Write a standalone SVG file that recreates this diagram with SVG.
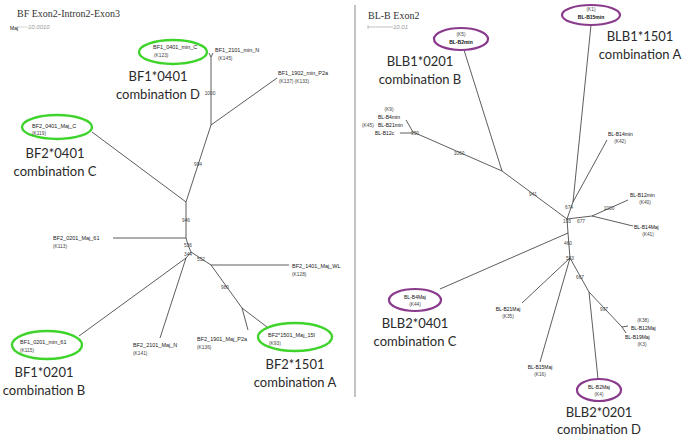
<svg xmlns="http://www.w3.org/2000/svg" width="684" height="436" viewBox="0 0 684 436">
<style>
.t{font-family:"Liberation Serif",serif;font-size:10px;fill:#333}
.s{font-family:"Liberation Sans",Arial,sans-serif;font-size:5.5px;fill:#222}
.k{font-family:"Liberation Sans",Arial,sans-serif;font-size:4.8px;fill:#444}
.b{font-family:"Liberation Sans",Arial,sans-serif;font-size:5px;fill:#111}
.big{font-family:Lato,"Open Sans",sans-serif;font-size:13px;fill:#2a2a2a;text-anchor:middle}
.sc{font-family:"Liberation Sans",Arial,sans-serif;font-size:6px;fill:#999;font-style:italic}
.g{fill:none;stroke:#3fd42c;stroke-width:2.4}
.p{fill:none;stroke:#8a3a8c;stroke-width:2.2}
.e line,.e path{stroke:#333;stroke-width:0.8;fill:none}
</style>
<rect width="684" height="436" fill="#fff"/>
<line x1="355" y1="5" x2="355" y2="397" stroke="#888" stroke-width="1"/>
<text class="t" x="17" y="17">BF Exon2-Intron2-Exon3</text>
<text class="b" x="10" y="30" font-size="4.5">Maj</text>
<line x1="18" y1="27" x2="28" y2="27" stroke="#bbb" stroke-width="0.6"/>
<text class="sc" x="28" y="29">10.0010</text>
<text class="t" x="368" y="19">BL-B Exon2</text>
<line x1="368" y1="27" x2="393" y2="27" stroke="#999" stroke-width="0.6"/>
<line x1="368" y1="25" x2="368" y2="29" stroke="#999" stroke-width="0.6"/>
<text class="sc" x="393" y="29">10.01</text>
<g id="connectors" class="e">
<line x1="209" y1="53" x2="211" y2="57"/>
<line x1="213" y1="53" x2="211" y2="57"/>
<line x1="211" y1="57" x2="211" y2="125"/>
<line x1="211" y1="125" x2="277" y2="78"/>
<line x1="211" y1="125" x2="186" y2="202"/>
<line x1="186" y1="202" x2="92" y2="132"/>
<line x1="186" y1="202" x2="186" y2="238"/>
<line x1="113" y1="238" x2="186" y2="238"/>
<path d="M186,238 L188,245 L191,252"/>
<line x1="191" y1="252" x2="186" y2="258"/>
<line x1="186" y1="258" x2="79" y2="336"/>
<line x1="186" y1="258" x2="160" y2="338"/>
<line x1="191" y1="252" x2="211" y2="265"/>
<line x1="211" y1="265" x2="289" y2="265"/>
<line x1="211" y1="265" x2="242" y2="308"/>
<line x1="242" y1="308" x2="248" y2="330"/>
<line x1="242" y1="308" x2="267" y2="327"/>
<line x1="400" y1="133" x2="413" y2="133"/>
<line x1="406" y1="120" x2="413" y2="132"/>
<line x1="413" y1="132" x2="502" y2="171"/>
<line x1="464" y1="50" x2="502" y2="171"/>
<line x1="502" y1="171" x2="567" y2="219"/>
<line x1="591" y1="25" x2="573" y2="202"/>
<line x1="607" y1="140" x2="573" y2="202"/>
<line x1="573" y1="202" x2="567" y2="219"/>
<line x1="567" y1="219" x2="592" y2="216"/>
<line x1="592" y1="216" x2="628" y2="200"/>
<line x1="592" y1="216" x2="633" y2="226"/>
<line x1="567" y1="219" x2="568" y2="233"/>
<line x1="568" y1="233" x2="440" y2="289"/>
<line x1="568" y1="233" x2="570" y2="258"/>
<line x1="570" y1="258" x2="522" y2="303"/>
<line x1="570" y1="258" x2="540" y2="362"/>
<line x1="570" y1="258" x2="589" y2="292"/>
<line x1="589" y1="292" x2="598" y2="379"/>
<line x1="589" y1="292" x2="622" y2="327"/>
<line x1="622" y1="327" x2="628" y2="326"/>
<line x1="622" y1="327" x2="626" y2="333"/>
</g>
<g id="bootstrap" class="k" font-size="5" text-anchor="middle">
<text x="210" y="95">1000</text>
<text x="198" y="166">994</text>
<text x="186" y="222">946</text>
<text x="188" y="247">536</text>
<text x="188" y="256">344</text>
<text x="201" y="261">552</text>
<text x="225" y="289">980</text>
<text x="415" y="135">990</text>
<text x="459" y="155">1060</text>
<text x="533" y="196">941</text>
<text x="569" y="209">674</text>
<text x="567" y="223">193</text>
<text x="581" y="223">677</text>
<text x="609" y="210">1000</text>
<text x="568" y="245">460</text>
<text x="570" y="260">553</text>
<text x="580" y="279">667</text>
<text x="604" y="311">997</text>
</g>
<g id="BF1_0401">
<ellipse class="g" cx="173" cy="52" rx="34" ry="12"/>
<text class="s" x="153" y="49">BF1_0401_min_C</text>
<text class="k" x="154" y="57">(K123)</text>
<text class="big" x="158" y="81">BF1*0401</text>
<text class="big" x="158" y="99">combination D</text>
</g>
<g id="BF1_2101">
<text class="s" x="215" y="52">BF1_2101_min_N</text>
<text class="k" x="218" y="60">(K145)</text>
</g>
<g id="BF1_1902">
<text class="s" x="278" y="75">BF1_1902_min_P2a</text>
<text class="k" x="279" y="83">(K137) (K133)</text>
</g>
<g id="BF2_0401">
<ellipse class="g" cx="57" cy="127" rx="35" ry="12"/>
<text class="s" x="32" y="128">BF2_0401_Maj_C</text>
<text class="k" x="32" y="135">(K119)</text>
<text class="big" x="55" y="158">BF2*0401</text>
<text class="big" x="55" y="176">combination C</text>
</g>
<g id="BF2_0201">
<text class="s" x="53" y="240">BF2_0201_Maj_61</text>
<text class="k" x="53" y="248">(K113)</text>
</g>
<g id="BF2_1401">
<text class="s" x="292" y="268">BF2_1401_Maj_WL</text>
<text class="k" x="292" y="276">(K128)</text>
</g>
<g id="BF1_0201">
<ellipse class="g" cx="47" cy="345" rx="35" ry="14"/>
<text class="s" x="20" y="344">BF1_0201_min_61</text>
<text class="k" x="20" y="352">(K115)</text>
<text class="big" x="44" y="377">BF1*0201</text>
<text class="big" x="44" y="395">combination B</text>
</g>
<g id="BF2_2101">
<text class="s" x="133" y="347">BF2_2101_Maj_N</text>
<text class="k" x="133" y="355">(K141)</text>
</g>
<g id="BF2_1901">
<text class="s" x="197" y="341">BF2_1901_Maj_P2a</text>
<text class="k" x="197" y="349">(K136)</text>
</g>
<g id="BF2_1501">
<ellipse class="g" cx="295" cy="337" rx="37" ry="14"/>
<text class="s" x="268" y="337">BF2*1501_Maj_15I</text>
<text class="k" x="269" y="345">(K93)</text>
<text class="big" x="295" y="369">BF2*1501</text>
<text class="big" x="295" y="387">combination A</text>
</g>
<g id="BL-B15min">
<ellipse class="p" cx="591" cy="15" rx="29" ry="10"/>
<text class="k" x="591" y="11" text-anchor="middle">(K1)</text>
<text class="b" x="591" y="19" text-anchor="middle" font-weight="bold">BL-B15min</text>
<text class="big" x="640" y="41">BLB1*1501</text>
<text class="big" x="640" y="59">combination A</text>
</g>
<g id="BL-B2min">
<ellipse class="p" cx="461" cy="39" rx="27" ry="11"/>
<text class="k" x="461" y="36" text-anchor="middle">(K5)</text>
<text class="b" x="461" y="44" text-anchor="middle" font-weight="bold">BL-B2min</text>
<text class="big" x="420" y="66">BLB1*0201</text>
<text class="big" x="420" y="84">combination B</text>
</g>
<g id="BL-Bleft">
<text class="k" x="389" y="111" text-anchor="middle">(K9)</text>
<text class="b" x="378" y="119">BL-B4min</text>
<text class="k" x="362" y="127">(K45)</text>
<text class="b" x="378" y="127">BL-B21min</text>
<text class="b" x="375" y="135">BL-B12c</text>
</g>
<g id="BL-B14min">
<text class="b" x="608" y="136">BL-B14min</text>
<text class="k" x="620" y="143" text-anchor="middle">(K42)</text>
</g>
<g id="BL-B12min">
<text class="b" x="630" y="197">BL-B12min</text>
<text class="k" x="645" y="204" text-anchor="middle">(K40)</text>
</g>
<g id="BL-B14Maj">
<text class="b" x="634" y="229">BL-B14Maj</text>
<text class="k" x="648" y="236" text-anchor="middle">(K41)</text>
</g>
<g id="BL-B4Maj">
<ellipse class="p" cx="415" cy="300" rx="26" ry="11"/>
<text class="b" x="415" y="299" text-anchor="middle">BL-B4Maj</text>
<text class="k" x="415" y="306" text-anchor="middle">(K44)</text>
<text class="big" x="415" y="328">BLB2*0401</text>
<text class="big" x="415" y="346">combination C</text>
</g>
<g id="BL-B21Maj">
<text class="b" x="508" y="311" text-anchor="middle">BL-B21Maj</text>
<text class="k" x="508" y="318" text-anchor="middle">(K35)</text>
</g>
<g id="BL-B15Maj">
<text class="b" x="540" y="369" text-anchor="middle">BL-B15Maj</text>
<text class="k" x="540" y="376" text-anchor="middle">(K16)</text>
</g>
<g id="BL-B12Maj">
<text class="k" x="643" y="322" text-anchor="middle">(K38)</text>
<text class="b" x="631" y="330">BL-B12Maj</text>
<text class="b" x="625" y="339">BL-B19Maj</text>
<text class="k" x="642" y="346" text-anchor="middle">(K3)</text>
</g>
<g id="BL-B2Maj">
<ellipse class="p" cx="599" cy="390" rx="22" ry="11"/>
<text class="b" x="599" y="389" text-anchor="middle">BL-B2Maj</text>
<text class="k" x="599" y="396" text-anchor="middle">(K4)</text>
<text class="big" x="599" y="417">BLB2*0201</text>
<text class="big" x="599" y="434">combination D</text>
</g>
</svg>
